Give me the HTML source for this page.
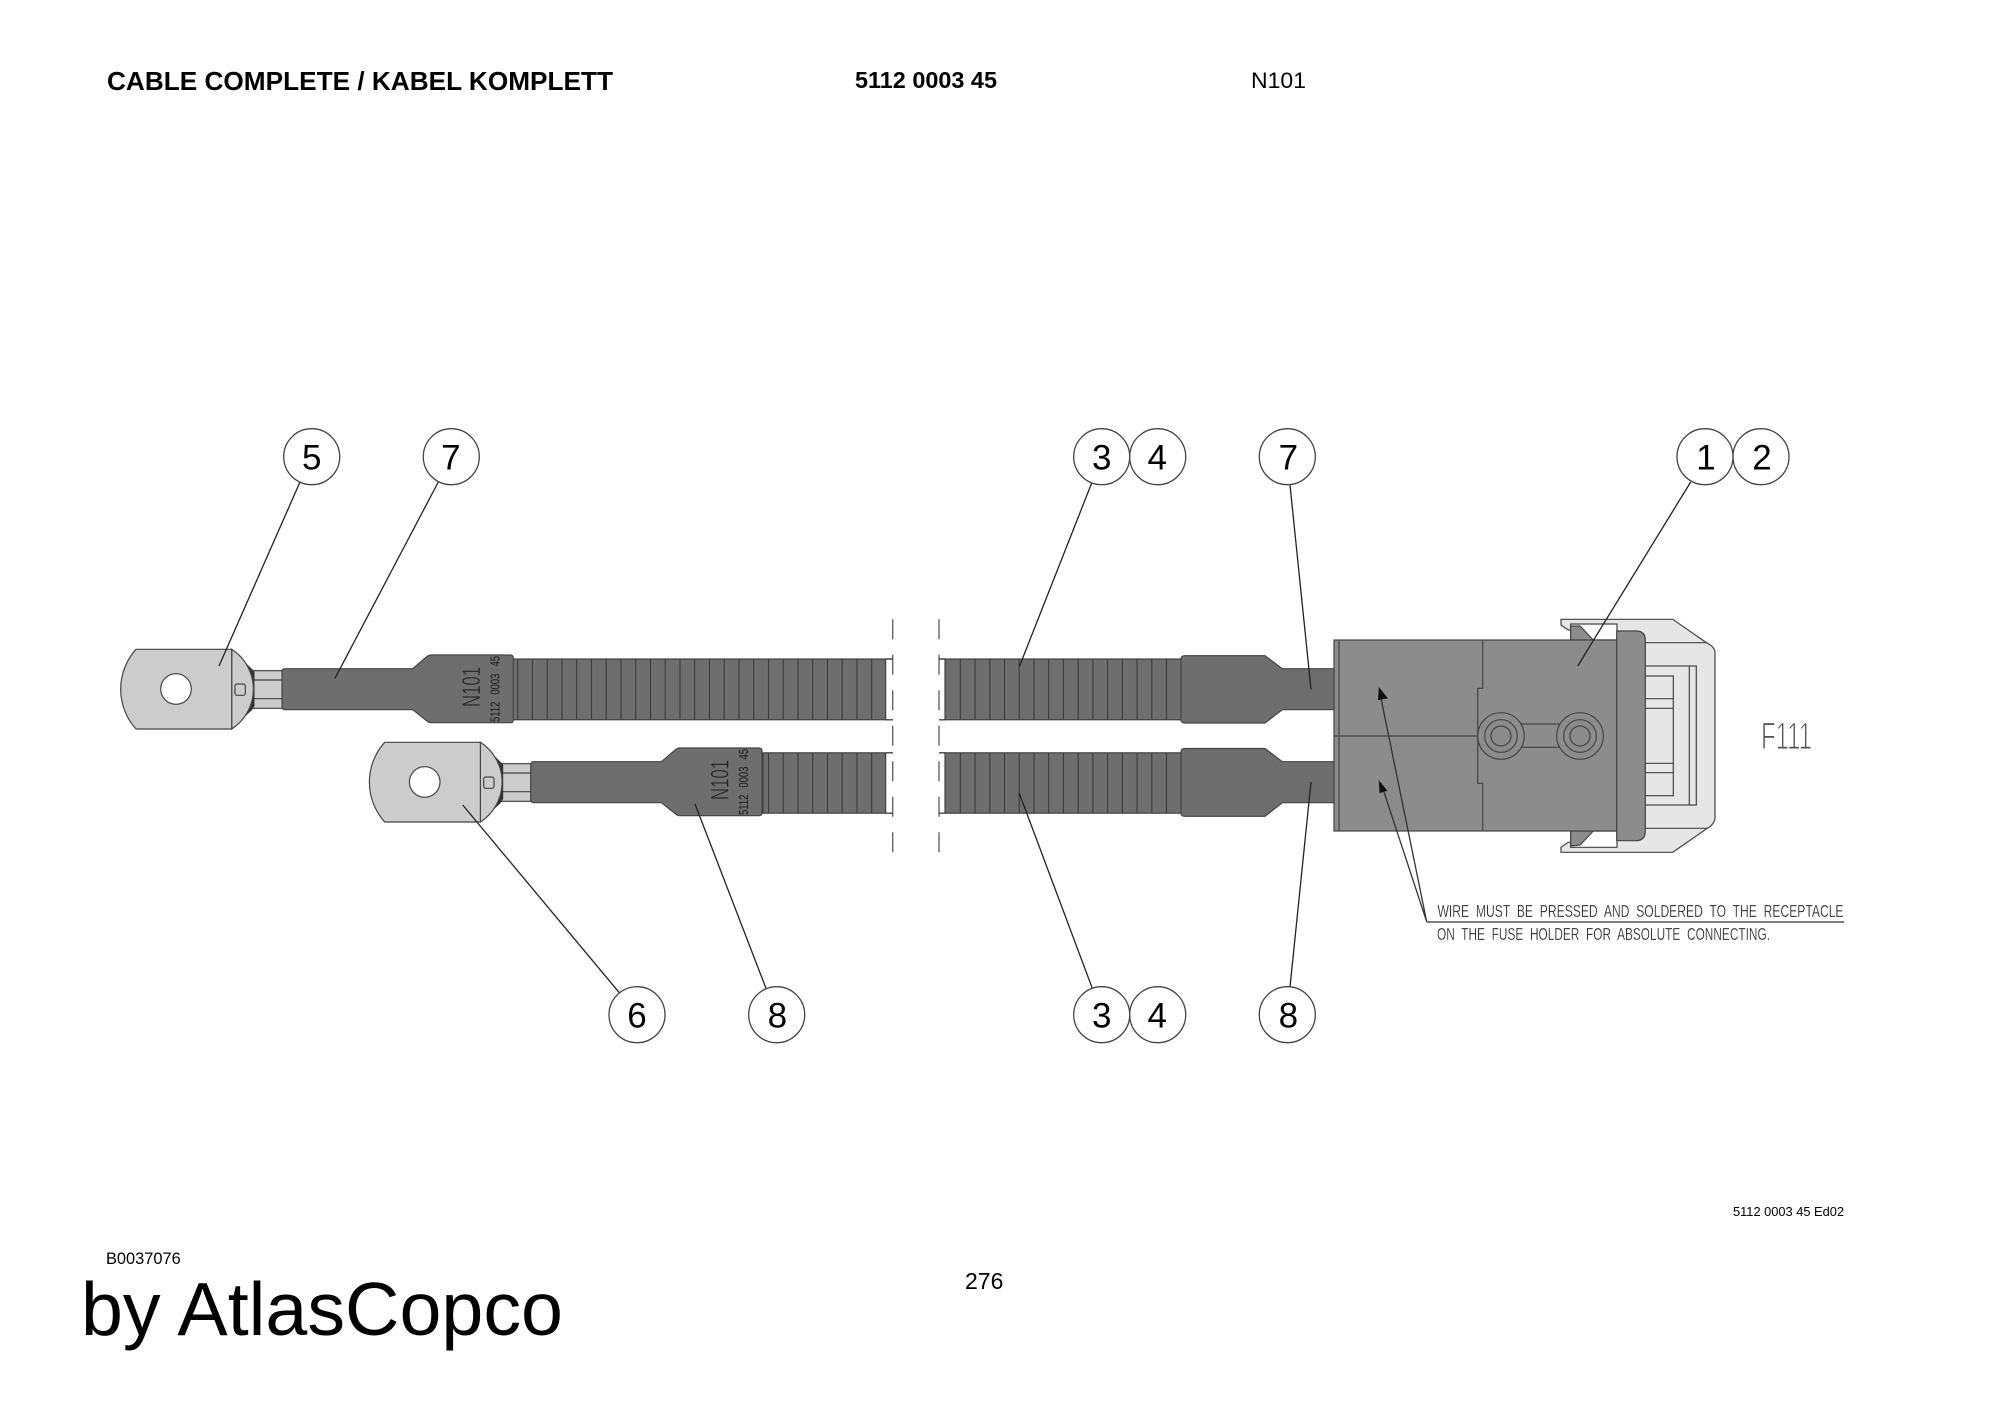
<!DOCTYPE html>
<html><head><meta charset="utf-8"><title>Cable complete</title>
<style>html,body{margin:0;padding:0;background:#fff}svg{display:block}text{font-family:"Liberation Sans",sans-serif}</style></head>
<body>
<svg xmlns="http://www.w3.org/2000/svg" width="2000" height="1415" viewBox="0 0 2000 1415">
<rect width="2000" height="1415" fill="#fff"/>
<!-- Header -->
<text x="107" y="90" font-size="26" font-weight="bold" textLength="506" lengthAdjust="spacingAndGlyphs">CABLE COMPLETE / KABEL KOMPLETT</text>
<text x="855" y="88" font-size="23" font-weight="bold" textLength="142" lengthAdjust="spacingAndGlyphs">5112 0003 45</text>
<text x="1251" y="88" font-size="22.5" textLength="55" lengthAdjust="spacingAndGlyphs">N101</text>

<!-- Break dashes -->
<g stroke="#666" stroke-width="1.4" fill="none">
<path d="M892.7,619.3V853M939,619.3V853" stroke-dasharray="20 15.5"/>
<path d="M886,659H893M886,719.8H893M886,752.8H893M886,813.2H893M939,659H945M939,719.8H945M939,752.8H945M939,813.2H945" stroke="#444"/>
</g>

<!-- Ribbed cable -->
<g fill="#6e6e6e" stroke="#3a3a3a" stroke-width="1.1">
<rect x="513" y="659" width="372.7" height="60.8"/>
<rect x="763" y="752.8" width="122.7" height="60.4"/>
<rect x="945" y="659" width="238" height="60.8"/>
<rect x="945" y="752.8" width="238" height="60.4"/>
<path fill="none" d="M517.7,659V719.8M532.4,659V719.8M547.2,659V719.8M562,659V719.8M576.7,659V719.8M591.5,659V719.8M606.2,659V719.8M621,659V719.8M635.7,659V719.8M650.5,659V719.8M665.2,659V719.8M680,659V719.8M694.7,659V719.8M709.5,659V719.8M724.2,659V719.8M739,659V719.8M753.7,659V719.8M768.5,659V719.8M783.2,659V719.8M798,659V719.8M812.7,659V719.8M827.5,659V719.8M842.2,659V719.8M857,659V719.8M871.7,659V719.8"/>
<path fill="none" d="M768.5,752.8V813.2M783.2,752.8V813.2M798,752.8V813.2M812.7,752.8V813.2M827.5,752.8V813.2M842.2,752.8V813.2M857,752.8V813.2M871.7,752.8V813.2"/>
<path fill="none" d="M960.3,659V719.8M975,659V719.8M989.8,659V719.8M1004.5,659V719.8M1019.2,659V719.8M1034,659V719.8M1048.7,659V719.8M1063.4,659V719.8M1078.2,659V719.8M1092.9,659V719.8M1107.6,659V719.8M1122.4,659V719.8M1137.1,659V719.8M1151.8,659V719.8M1166.5,659V719.8"/>
<path fill="none" d="M960.3,752.8V813.2M975,752.8V813.2M989.8,752.8V813.2M1004.5,752.8V813.2M1019.2,752.8V813.2M1034,752.8V813.2M1048.7,752.8V813.2M1063.4,752.8V813.2M1078.2,752.8V813.2M1092.9,752.8V813.2M1107.6,752.8V813.2M1122.4,752.8V813.2M1137.1,752.8V813.2M1151.8,752.8V813.2M1166.5,752.8V813.2"/>
</g>

<!-- Lug 1 + sleeve -->
<g>
<g stroke="#444" stroke-width="1.2" fill="#cccccc">
<rect x="250" y="670.7" width="34" height="37.6"/>
<path fill="none" d="M254,680H282M254,698.7H282"/>
<path d="M231.7,649.3L252,669L254.5,672V706L252,710L231.7,729Z" fill="#333" stroke="none"/>
<path d="M231.7,649.3A47.4,47.4 0 0 1 231.7,729Z"/>
<path d="M136,649.3H231.7V729H136A59.5,59.5 0 0 1 136,649.3Z"/>
<circle cx="176" cy="689" r="15.3" fill="#fff"/>
<rect x="235" y="684" width="10.3" height="11.3" rx="2" fill="none"/>
<path fill="#6e6e6e" d="M282,672Q282,668.7 285,668.7H412.7L427,656.5Q429,655 431,655H510Q513.3,655 513.3,658V720Q513.3,722.7 510,722.7H431Q429,722.7 427,721L412.7,709.7H285Q282,709.7 282,706.5Z"/>
</g>
<text transform="translate(480,707) rotate(-90)" font-size="25" fill="#222" stroke="#6e6e6e" stroke-width=".5" textLength="40" lengthAdjust="spacingAndGlyphs">N101</text>
<text transform="translate(499.5,722) rotate(-90)" font-size="13" fill="#1a1a1a" word-spacing="6" textLength="66" lengthAdjust="spacingAndGlyphs">5112 0003 45</text>
</g>

<!-- Lug 2 + sleeve -->
<g transform="translate(248.7,93)">
<g stroke="#444" stroke-width="1.2" fill="#cccccc">
<rect x="250" y="670.7" width="34" height="37.6"/>
<path fill="none" d="M254,680H282M254,698.7H282"/>
<path d="M231.7,649.3L252,669L254.5,672V706L252,710L231.7,729Z" fill="#333" stroke="none"/>
<path d="M231.7,649.3A47.4,47.4 0 0 1 231.7,729Z"/>
<path d="M136,649.3H231.7V729H136A59.5,59.5 0 0 1 136,649.3Z"/>
<circle cx="176" cy="689" r="15.3" fill="#fff"/>
<rect x="235" y="684" width="10.3" height="11.3" rx="2" fill="none"/>
<path fill="#6e6e6e" d="M282,672Q282,668.7 285,668.7H412.7L427,656.5Q429,655 431,655H510Q513.3,655 513.3,658V720Q513.3,722.7 510,722.7H431Q429,722.7 427,721L412.7,709.7H285Q282,709.7 282,706.5Z"/>
</g>
<text transform="translate(480,707) rotate(-90)" font-size="25" fill="#222" stroke="#6e6e6e" stroke-width=".5" textLength="40" lengthAdjust="spacingAndGlyphs">N101</text>
<text transform="translate(499.5,722) rotate(-90)" font-size="13" fill="#1a1a1a" word-spacing="6" textLength="66" lengthAdjust="spacingAndGlyphs">5112 0003 45</text>
</g>

<!-- Right sleeves -->
<g fill="#6e6e6e" stroke="#444" stroke-width="1.2">
<path d="M1181,659Q1181,655.7 1185,655.7H1265L1282.3,668.7H1335V709.7H1282.3L1265,723H1185Q1181,723 1181,719.5Z"/>
<path d="M1181,752Q1181,748.5 1185,748.5H1265L1282.3,761.7H1335V802.7H1282.3L1265,816.3H1185Q1181,816.3 1181,812.7Z"/>
</g>

<!-- Fuse holder -->
<g stroke="#444" stroke-width="1.2">
<path fill="#e6e6e6" d="M1561,619.3H1672.7L1707.3,643.3Q1715,647 1715,653V817Q1715,824 1707.3,828.3L1672.7,852.3H1561V847.3L1568.3,842.3H1600V630H1568.3L1561,625Z"/>
<path fill="none" d="M1645,642.7H1707M1645,828.3H1707"/>
<path fill="#fff" d="M1570.7,624H1617V640H1570.7ZM1570.7,831H1617V847.3H1570.7Z"/>
<path fill="#8c8c8c" d="M1570.7,626H1580L1593.3,640H1570.7ZM1570.7,831H1593.3L1580,845L1570.7,846Z"/>
<rect x="1645" y="666" width="51.3" height="139" fill="#e6e6e6"/>
<path fill="none" d="M1689.3,666V805"/>
<rect x="1645" y="676" width="28.3" height="119.7" fill="#e6e6e6"/>
<path fill="none" d="M1645,698.7H1673.3M1645,708.3H1673.3M1645,763.3H1673.3M1645,772.7H1673.3"/>
<path fill="#8c8c8c" d="M1616.7,631H1636Q1645.3,631 1645.3,640V831Q1645.3,840.7 1636,840.7H1616.7Z"/>
<rect x="1334" y="640" width="282.7" height="191" fill="#8c8c8c"/>
<path fill="none" d="M1339,640V831M1334,736H1477.7M1482.7,640V688.3H1477.7V783.3H1482.7V831"/>
<rect x="1515" y="724" width="50" height="23.3" fill="#8c8c8c"/>
<g fill="#8c8c8c">
<circle cx="1501" cy="736" r="23.3"/><circle cx="1501" cy="736" r="16.3"/><circle cx="1501" cy="736" r="10"/>
<circle cx="1580" cy="736" r="23.3"/><circle cx="1580" cy="736" r="16.3"/><circle cx="1580" cy="736" r="10"/>
</g>
</g>
<text x="1761" y="749" font-size="38" fill="#555" stroke="#fff" stroke-width="1.1" textLength="51" lengthAdjust="spacingAndGlyphs">F111</text>

<!-- Leaders -->
<g stroke="#222" stroke-width="1.3" fill="none">
<path d="M300,482L219,666M438.3,482L335,678.3M1091.7,483L1019.3,666.7M1290,485L1311,689.3M1690.7,482L1577.7,666M619.3,992.7L462.7,805M766,988.3L695,804M1092.3,988.3L1019.3,793.3M1290,987L1311,782"/>
<path d="M1379.3,690L1426.7,921.7L1381,783M1426.7,922H1844" stroke="#333"/>
</g>
<path d="M1379.3,688.3L1387,698L1378.5,699.5Z" fill="#111" stroke="#111"/>
<path d="M1379.3,781.7L1386.5,790.5L1380,792.5Z" fill="#111" stroke="#111"/>

<!-- Note -->
<g font-size="17.5" fill="#222" stroke="#fff" stroke-width=".25" word-spacing="5">
<text x="1437.5" y="917" textLength="406" lengthAdjust="spacingAndGlyphs">WIRE MUST BE PRESSED AND SOLDERED TO THE RECEPTACLE</text>
<text x="1437" y="940" textLength="333" lengthAdjust="spacingAndGlyphs">ON THE FUSE HOLDER FOR ABSOLUTE CONNECTING.</text>
</g>

<!-- Balloons -->
<g fill="#fff" stroke="#444" stroke-width="1.3">
<circle cx="311.7" cy="456.7" r="28"/><circle cx="451.3" cy="456.7" r="28"/>
<circle cx="1101.7" cy="456.7" r="28"/><circle cx="1157.7" cy="456.7" r="28"/>
<circle cx="1287.3" cy="456.7" r="28"/><circle cx="1705" cy="456.7" r="28"/><circle cx="1761" cy="456.7" r="28"/>
<circle cx="637" cy="1014.7" r="28"/><circle cx="776.7" cy="1014.7" r="28"/>
<circle cx="1101.7" cy="1014.7" r="28"/><circle cx="1157.7" cy="1014.7" r="28"/><circle cx="1287.3" cy="1014.7" r="28"/>
</g>
<g font-size="35" text-anchor="middle" fill="#000">
<text x="311.7" y="469.5">5</text><text x="450.8" y="469.5">7</text>
<text x="1101.7" y="469.5">3</text><text x="1157.2" y="469.5">4</text>
<text x="1288.3" y="469.5">7</text><text x="1706" y="469.5">1</text><text x="1762" y="469.5">2</text>
<text x="637" y="1027.5">6</text><text x="777.4" y="1027.5">8</text>
<text x="1101.7" y="1027.5">3</text><text x="1157.2" y="1027.5">4</text><text x="1288.3" y="1027.5">8</text>
</g>

<!-- Footer -->
<text x="1733" y="1216" font-size="13" textLength="111" lengthAdjust="spacingAndGlyphs">5112 0003 45 Ed02</text>
<text x="106" y="1264" font-size="16.4">B0037076</text>
<text x="965" y="1289" font-size="23">276</text>
<text x="81" y="1335" font-size="75.4">by AtlasCopco</text>
</svg>
</body></html>
